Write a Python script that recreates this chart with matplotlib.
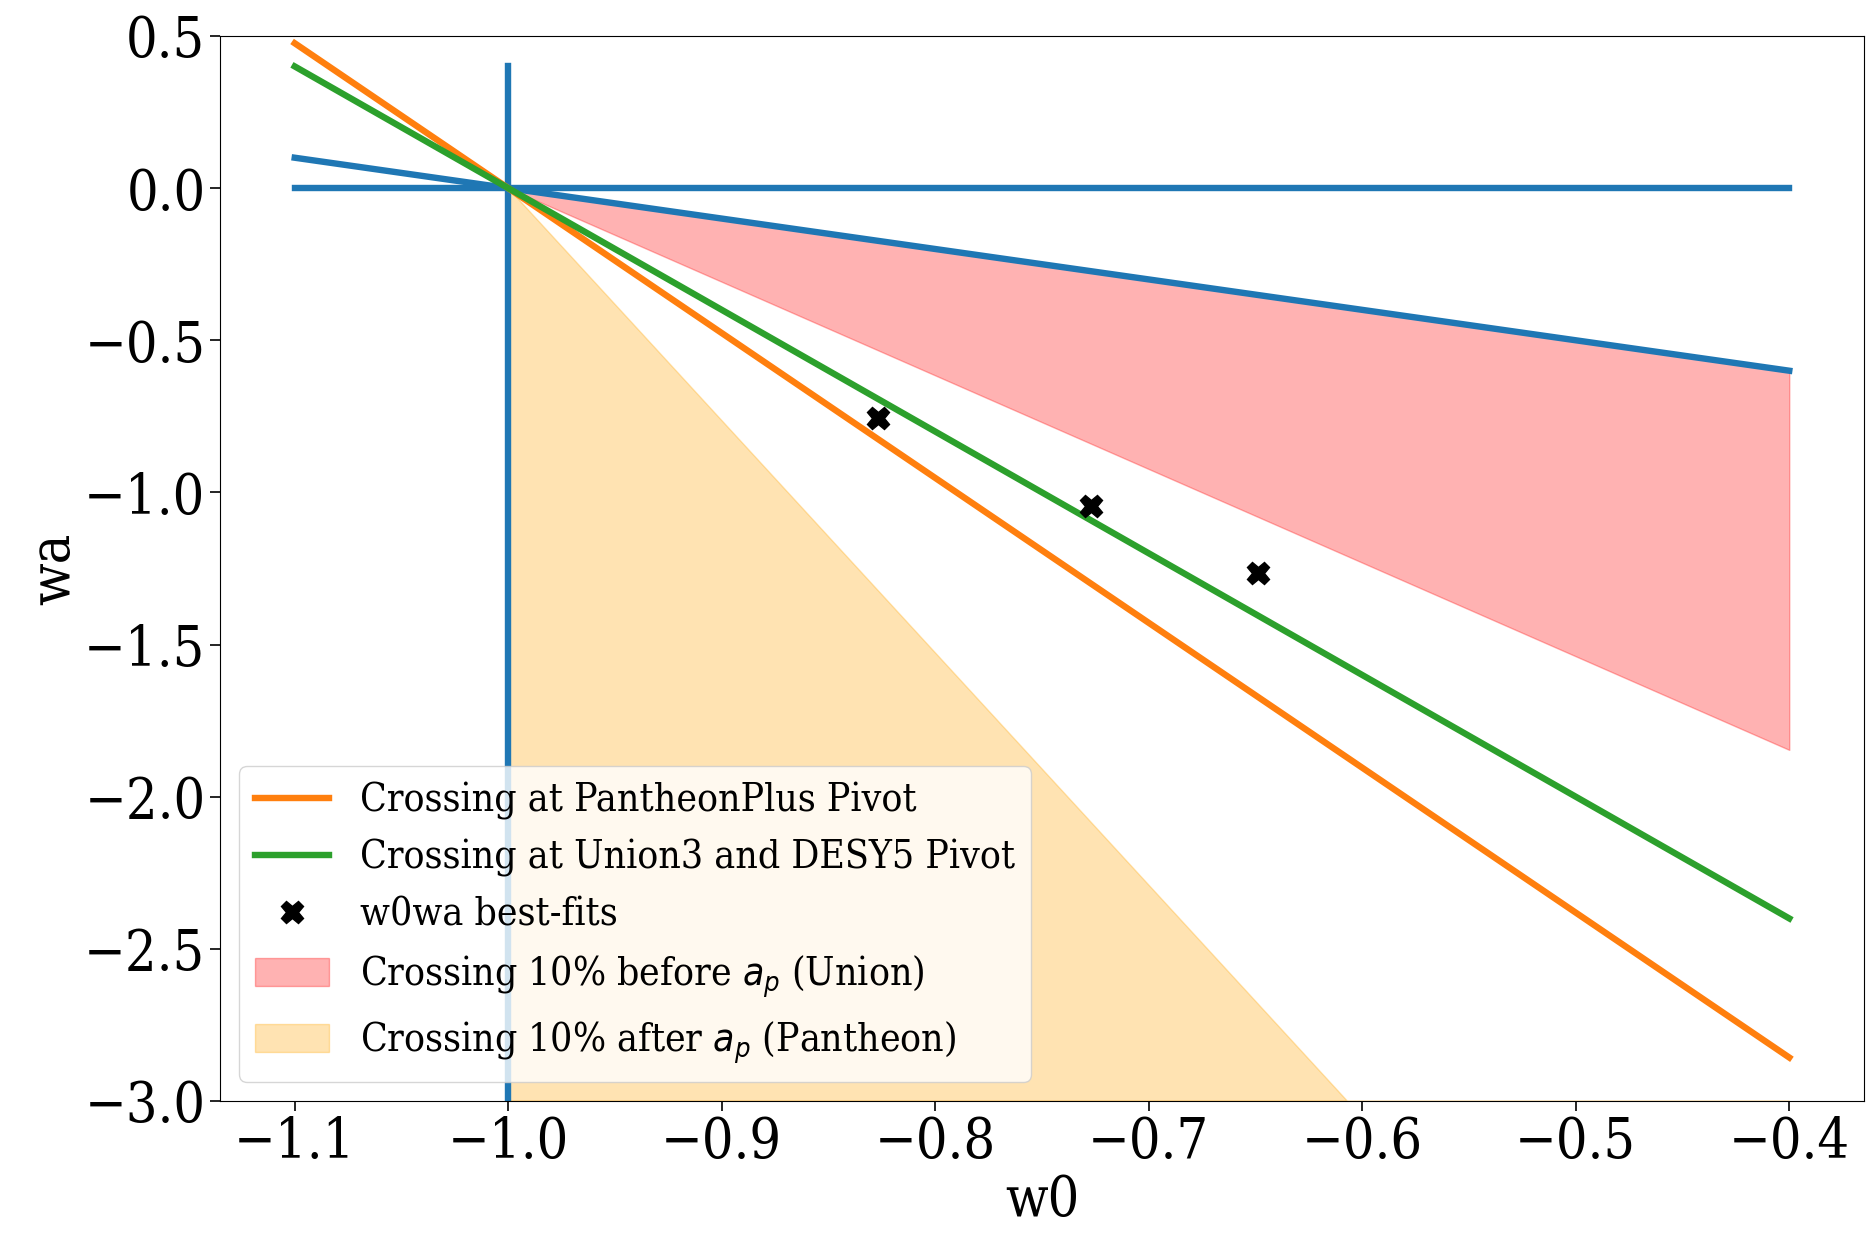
import numpy as np
import matplotlib
matplotlib.use("Agg")
import matplotlib.pyplot as plt

plt.rcParams['font.family'] = ['DejaVu Serif']
plt.rcParams['font.stretch'] = 'condensed'

# data
w0_range = [-1.1, -0.4]
a_pantheon = 0.79
a_union = 0.75
frac = 0.10
bestfit_w0 = [-0.827, -0.727, -0.649]
bestfit_wa = [-0.754, -1.045, -1.266]
vline_wa = [-3.0, 0.4]
ylim = [-3.0, 0.5]


def wa_line(w0, a):
    return -(1.0 + np.asarray(w0)) / (1.0 - a)


fig = plt.figure(figsize=(18.67, 12.37), dpi=100)
ax = fig.add_axes([220 / 1867, 136 / 1237, (1864 - 220) / 1867, (1101 - 36) / 1237])

x = np.array(w0_range)
xr = np.array([-1.0, w0_range[1]])
lw = 4.6
ax.plot(x, [0, 0], color='C0', lw=lw)
ax.plot([-1.0, -1.0], vline_wa, color='C0', lw=lw)
ax.plot(x, wa_line(x, 0.0), color='C0', lw=lw)
ax.plot(x, wa_line(x, a_pantheon), color='C1', lw=lw, label='Crossing at PantheonPlus Pivot')
ax.plot(x, wa_line(x, a_union), color='C2', lw=lw, label='Crossing at Union3 and DESY5 Pivot')
ax.plot(bestfit_w0, bestfit_wa, 'X', color='black', ms=16, ls='none', label='w0wa best-fits')
ax.fill_between(xr, wa_line(xr, 0.0), wa_line(xr, a_union * (1 - frac)), color='red', alpha=0.3,
                label=r'Crossing 10% before $a_p$ (Union)')
ax.fill_between(xr, wa_line(xr, a_pantheon * (1 + frac)), ylim[0], color='orange', alpha=0.3,
                label=r'Crossing 10% after $a_p$ (Pantheon)')

ax.set_ylim(ylim)
ax.set_xlabel('w0', fontsize=40, labelpad=2)
ax.set_ylabel('wa', fontsize=40, labelpad=2)
ax.tick_params(labelsize=40, length=7, width=1.2)
ax.legend(loc='lower left', fontsize=28, handlelength=1.9)

fig.savefig('out.png', dpi=100)
